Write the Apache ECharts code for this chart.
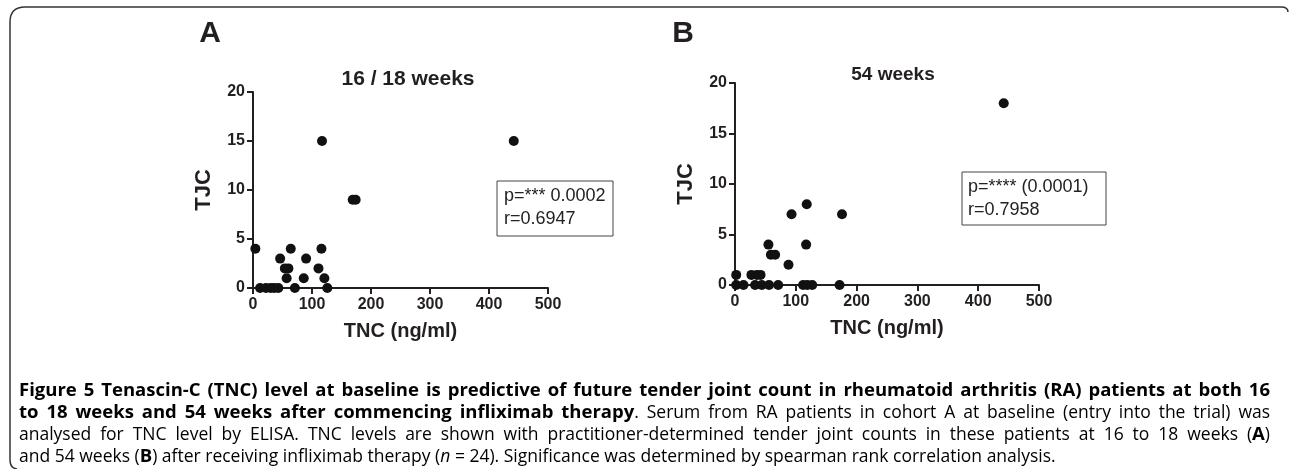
<!DOCTYPE html>
<html>
<head>
<meta charset="utf-8">
<script src="https://cdn.jsdelivr.net/npm/echarts@6/dist/echarts.min.js"></script>
<style>
html,body{margin:0;padding:0;background:#fff;}
#chart{width:1290px;height:469px;}
</style>
</head>
<body>
<div id="chart"></div>
<script>
// ---- data ----
var tncA = [4, 12, 22, 30, 36, 43, 46, 54, 60, 57, 64, 71, 86, 90, 111, 116, 117, 121, 126, 169, 174, 442];
var tjcA = [4, 0, 0, 0, 0, 0, 3, 2, 2, 1, 4, 0, 1, 3, 2, 4, 15, 1, 0, 9, 9, 15];
var tncB = [2, 2, 14, 27, 36, 42, 33, 44, 56, 71, 55, 59, 66, 88, 93, 112, 119, 127, 118, 117, 172, 176, 442];
var tjcB = [1, 0, 0, 1, 1, 1, 0, 0, 0, 0, 4, 3, 3, 2, 7, 0, 0, 0, 8, 4, 0, 7, 18];
var xTicks = [0, 100, 200, 300, 400, 500];
var yTicks = [0, 5, 10, 15, 20];
var panelLetters = ['A', 'B'];
var panelTitles = ['16 / 18 weeks', '54 weeks'];
var statsA = ['p=*** 0.0002', 'r=0.6947'];
var statsB = ['p=**** (0.0001)', 'r=0.7958'];
var xName = 'TNC (ng/ml)';
var yName = 'TJC';

function pairs(xs, ys) { return xs.map(function (x, i) { return [x, ys[i]]; }); }

var AX = '#231f20';
var FF = 'Arial, "Liberation Sans", sans-serif';

function xAxisCfg(idx) {
  return {
    gridIndex: idx, type: 'value', min: 0, max: 500, interval: 100,
    name: xName, nameLocation: 'middle', nameGap: 33,
    nameTextStyle: { fontFamily: FF, fontWeight: 'bold', fontSize: 20, color: AX },
    axisLine: { show: true, onZero: false, lineStyle: { color: AX, width: 2 } },
    axisTick: { show: true, length: 6, lineStyle: { color: AX, width: 2 } },
    axisLabel: { margin: 9, fontFamily: FF, fontWeight: 'bold', fontSize: 16, color: AX,
      formatter: function (v) { return xTicks.indexOf(v) >= 0 ? String(v) : ''; } },
    splitLine: { show: false }
  };
}
function yAxisCfg(idx) {
  return {
    gridIndex: idx, type: 'value', min: 0, max: 20, interval: 5,
    name: yName, nameLocation: 'middle', nameGap: 38, nameRotate: 90,
    nameTextStyle: { fontFamily: FF, fontWeight: 'bold', fontSize: 22, color: AX },
    axisLine: { show: true, onZero: false, lineStyle: { color: AX, width: 2 } },
    axisTick: { show: true, length: 6, lineStyle: { color: AX, width: 2 } },
    axisLabel: { margin: 8, fontFamily: FF, fontWeight: 'bold', fontSize: 16, color: AX,
      formatter: function (v) { return yTicks.indexOf(v) >= 0 ? String(v) : ''; } },
    splitLine: { show: false }
  };
}

var chart = echarts.init(document.getElementById('chart'), null, { renderer: 'canvas', width: 1290, height: 469 });

// ---- caption ----
var CF = '"Open Sans", "Noto Sans", sans-serif';
var CS = 17.5, CSB = 18.5;
var capStyles = {
  b: { size: CSB, color: '#1a1a1a', fontWeight: 'bold', fontStyle: 'normal' },
  n: { size: CS, color: '#3c3c3c', fontWeight: 'normal', fontStyle: 'normal' },
  i: { size: CS, color: '#3c3c3c', fontWeight: 'normal', fontStyle: 'italic' }
};
var rich = {};
Object.keys(capStyles).forEach(function (k) {
  var s = capStyles[k];
  s.font = s.fontStyle + ' ' + s.fontWeight + ' ' + s.size + 'px ' + CF;
  rich[k] = { fontFamily: CF, fontSize: s.size, fontWeight: s.fontWeight, fontStyle: s.fontStyle, color: s.color };
});
var captionLines = [
  '{b|Figure 5 Tenascin-C (TNC) level at baseline is predictive of future tender joint count in rheumatoid arthritis (RA) patients at both 16}',
  '{b|to 18 weeks and 54 weeks after commencing infliximab therapy}{n|. Serum from RA patients in cohort A at baseline (entry into the trial) was}',
  '{n|analysed for TNC level by ELISA. TNC levels are shown with practitioner-determined tender joint counts in these patients at 16 to 18 weeks (}{b|A}{n|)}',
  '{n|and 54 weeks (}{b|B}{n|) after receiving infliximab therapy (}{i|n}{n| = 24). Significance was determined by spearman rank correlation analysis.}'
];
var captionJustify = [true, true, true, false];
var captionY = [391, 413, 435, 457];
var capLeft = 19, capRight = 1270;

var mctx = document.createElement('canvas').getContext('2d');
function measure(style, text) { mctx.font = capStyles[style].font; return mctx.measureText(text).width; }
function parseWords(line) {
  var segs = [], re = /\{(\w)\|([^}]*)\}/g, m;
  while ((m = re.exec(line))) segs.push([m[1], m[2]]);
  var words = [[]];
  segs.forEach(function (s) {
    var parts = s[1].split(' ');
    parts.forEach(function (p, j) {
      if (j > 0) words.push([]);
      if (p.length) words[words.length - 1].push([s[0], p]);
    });
  });
  return words.filter(function (w) { return w.length; });
}

var frameStyle = { fill: null, stroke: '#333', lineWidth: 1.5 };
var graphics = [
  { type: 'line', shape: { x1: 10, y1: 22, x2: 10, y2: 460 }, style: frameStyle },
  { type: 'bezierCurve', shape: { x1: 10, y1: 22, cpx1: 10, cpy1: 7, x2: 25, y2: 7 }, style: frameStyle },
  { type: 'line', shape: { x1: 25, y1: 7, x2: 1281, y2: 7 }, style: frameStyle },
  { type: 'bezierCurve', shape: { x1: 1281, y1: 7, cpx1: 1288, cpy1: 7, x2: 1288, y2: 12 }, style: frameStyle },
  { type: 'bezierCurve', shape: { x1: 10, y1: 460, cpx1: 10, cpy1: 468, x2: 17, y2: 469 }, style: frameStyle },
  { type: 'text', x: 210, y: 34, style: { text: panelLetters[0], font: 'bold 30px ' + FF, fill: AX, align: 'center', verticalAlign: 'middle' } },
  { type: 'text', x: 683, y: 34, style: { text: panelLetters[1], font: 'bold 30px ' + FF, fill: AX, align: 'center', verticalAlign: 'middle' } },
  { type: 'text', x: 408, y: 79, style: { text: panelTitles[0], font: 'bold 21px ' + FF, fill: AX, align: 'center', verticalAlign: 'middle' } },
  { type: 'text', x: 893, y: 75, style: { text: panelTitles[1], font: 'bold 19px ' + FF, fill: AX, align: 'center', verticalAlign: 'middle' } },
  { type: 'rect', shape: { x: 497, y: 181, width: 116, height: 55 }, style: { fill: '#fff', stroke: '#444', lineWidth: 1 } },
  { type: 'text', x: 504, y: 196, style: { text: statsA[0], font: '18px ' + FF, fill: '#222', verticalAlign: 'middle' } },
  { type: 'text', x: 504, y: 219, style: { text: statsA[1], font: '18px ' + FF, fill: '#222', verticalAlign: 'middle' } },
  { type: 'rect', shape: { x: 962, y: 172, width: 144, height: 53 }, style: { fill: '#fff', stroke: '#444', lineWidth: 1 } },
  { type: 'text', x: 968, y: 187, style: { text: statsB[0], font: '18px ' + FF, fill: '#222', verticalAlign: 'middle' } },
  { type: 'text', x: 968, y: 210, style: { text: statsB[1], font: '18px ' + FF, fill: '#222', verticalAlign: 'middle' } }
];

captionLines.forEach(function (line, k) {
  var words = parseWords(line);
  var widths = words.map(function (w) { return w.reduce(function (s, p) { return s + measure(p[0], p[1]); }, 0); });
  var total = widths.reduce(function (a, b) { return a + b; }, 0);
  var gap = captionJustify[k] ? (capRight - capLeft - total) / (words.length - 1) : measure('n', ' ');
  var x = capLeft;
  words.forEach(function (w, j) {
    var txt = w.map(function (p) { return '{' + p[0] + '|' + p[1] + '}'; }).join('');
    graphics.push({ type: 'text', x: x, y: captionY[k], style: { text: txt, rich: rich, verticalAlign: 'middle' } });
    x += widths[j] + gap;
  });
});

chart.setOption({
  animation: false,
  backgroundColor: '#ffffff',
  grid: [
    { left: 253, top: 92, width: 295, height: 196 },
    { left: 735, top: 83, width: 304, height: 202 }
  ],
  xAxis: [xAxisCfg(0), xAxisCfg(1)],
  yAxis: [yAxisCfg(0), yAxisCfg(1)],
  series: [
    { type: 'scatter', xAxisIndex: 0, yAxisIndex: 0, data: pairs(tncA, tjcA), symbol: 'circle', symbolSize: 10,
      itemStyle: { color: '#111', opacity: 1 }, clip: false },
    { type: 'scatter', xAxisIndex: 1, yAxisIndex: 1, data: pairs(tncB, tjcB), symbol: 'circle', symbolSize: 10,
      itemStyle: { color: '#111', opacity: 1 }, clip: false }
  ],
  graphic: graphics
});
</script>
</body>
</html>
